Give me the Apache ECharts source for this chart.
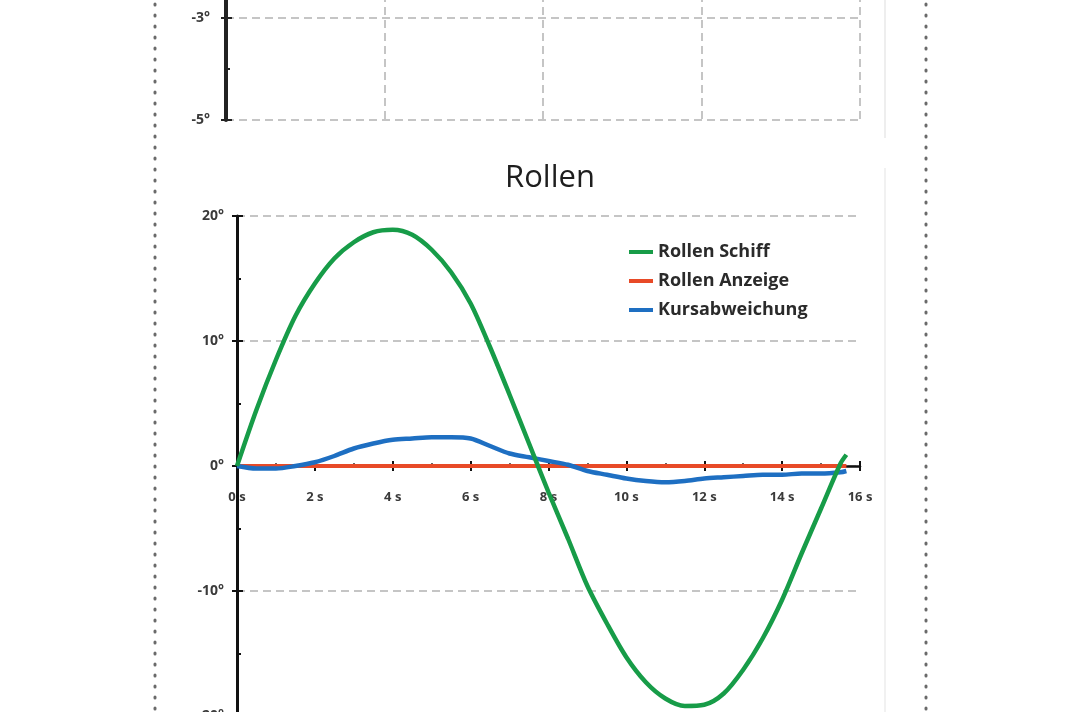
<!DOCTYPE html>
<html>
<head>
<meta charset="utf-8">
<script src="https://cdn.jsdelivr.net/npm/echarts@6/dist/echarts.min.js"></script>
<style>html,body{margin:0;padding:0;background:#fff;}#c{width:1068px;height:712px;}</style>
</head>
<body>
<div id="c"></div>
<script>
const title = 'Rollen';
const seriesNames = ['Rollen Schiff', 'Rollen Anzeige', 'Kursabweichung'];
const times = [0,0.5,1,1.5,2,2.5,3,3.5,4,4.5,5,5.5,6,6.5,7,7.5,8,8.5,9,9.5,10,10.5,11,11.5,12,12.5,13,13.5,14,14.5,15,15.5,15.65];
const rollenSchiff = [0,4.5,8.5,12.0,14.6,16.6,17.9,18.7,18.9,18.5,17.3,15.5,13.0,9.5,5.7,1.8,-2.1,-5.8,-9.6,-12.6,-15.3,-17.3,-18.6,-19.2,-19.1,-18.2,-16.3,-13.8,-10.7,-7.0,-3.4,0.2,0.9];
const rollenAnzeige = [0,0,0,0,0,0,0,0,0,0,0,0,0,0,0,0,0,0,0,0,0,0,0,0,0,0,0,0,0,0,0,0,0];
const kursabweichung = [0,-0.2,-0.2,0.0,0.3,0.8,1.4,1.8,2.1,2.2,2.3,2.3,2.2,1.6,1.0,0.7,0.4,0.1,-0.4,-0.7,-1.0,-1.2,-1.3,-1.2,-1.0,-0.9,-0.8,-0.7,-0.7,-0.6,-0.6,-0.5,-0.4];
const xTicks = {min: 0, max: 16, interval: 2};
const yTicks = {min: -20, max: 20, interval: 10};
const topXTicks = {min: 0, max: 16, interval: 4};
const topYTicks = {min: -5, max: -1, interval: 2};

const colors = {'Rollen Schiff': '#179c48', 'Rollen Anzeige': '#e84a27', 'Kursabweichung': '#1e6fc2'};
const zip = (a) => times.map((t, i) => [t, a[i]]);
const font = '"Open Sans", "Noto Sans", sans-serif';
const gridLine = {show: true, lineStyle: {color: '#b3b3b3', width: 1.5, type: [8, 5]}};
const labelStyle = {fontFamily: font, fontWeight: 'bold', color: '#3a3a3a'};

// bottom grid geometry: y from 216 (20°) to 716 (-20°); the time axis sits on the zero line
const gridTop = 216, gridH = 500;
const zeroOffset = -gridH * (0 - yTicks.min) / (yTicks.max - yTicks.min);

const chart = echarts.init(document.getElementById('c'), null, {renderer: 'canvas'});
chart.setOption({
  animation: false,
  backgroundColor: '#ffffff',
  title: {text: title, left: 545, top: 158, textAlign: 'center',
    textStyle: {fontFamily: font, fontSize: 31, fontWeight: 'normal', color: '#1e1e1e'}},
  legend: {
    data: seriesNames, orient: 'vertical', left: 624, top: 238, itemGap: 11,
    itemWidth: 24, itemHeight: 4, icon: 'rect',
    textStyle: {fontFamily: font, fontSize: 18, fontWeight: 'bold', color: '#2a2a2a', lineHeight: 18}
  },
  graphic: [
    {type: 'line', shape: {x1: 155, y1: 4, x2: 155, y2: 712}, style: {stroke: '#6a6a6a', lineWidth: 3, lineDash: [1, 10], lineCap: 'round'}},
    {type: 'line', shape: {x1: 926, y1: 4, x2: 926, y2: 712}, style: {stroke: '#6a6a6a', lineWidth: 3, lineDash: [1, 10], lineCap: 'round'}},
    {type: 'line', shape: {x1: 885, y1: 0, x2: 885, y2: 138}, style: {stroke: '#e8e8e8', lineWidth: 1.5}},
    {type: 'line', shape: {x1: 885, y1: 168, x2: 885, y2: 712}, style: {stroke: '#ececec', lineWidth: 1.5}}
  ],
  grid: [
    {left: 237, top: gridTop, width: 623, height: gridH, containLabel: false, outerBoundsMode: 'none'},
    {left: 226, top: -84, width: 634, height: 204, containLabel: false, outerBoundsMode: 'none'}
  ],
  xAxis: [
    {type: 'value', gridIndex: 0, position: 'bottom', offset: zeroOffset, min: xTicks.min, max: xTicks.max, interval: xTicks.interval,
     axisLine: {show: true, onZero: false, lineStyle: {color: '#111', width: 2.5}},
     axisTick: {show: true, length: 5, lineStyle: {color: '#111', width: 2}},
     axisLabel: {...labelStyle, fontSize: 13, margin: 25, formatter: v => v + ' s'},
     splitLine: {show: false}},
    {type: 'value', gridIndex: 0, position: 'bottom', offset: zeroOffset, min: xTicks.min, max: xTicks.max, interval: xTicks.interval,
     axisLine: {show: false, onZero: false},
     axisTick: {show: true, inside: true, length: 5, lineStyle: {color: '#111', width: 2}},
     minorTick: {show: true, splitNumber: 2, length: 3, lineStyle: {color: '#333', width: 1.5}},
     axisLabel: {show: false}, splitLine: {show: false}},
    {type: 'value', gridIndex: 1, min: topXTicks.min, max: topXTicks.max, interval: topXTicks.interval,
     axisLine: {show: false}, axisTick: {show: false}, axisLabel: {show: false},
     splitLine: gridLine}
  ],
  yAxis: [
    {type: 'value', gridIndex: 0, position: 'left', min: yTicks.min, max: yTicks.max, interval: yTicks.interval,
     axisLine: {show: true, onZero: false, lineStyle: {color: '#111', width: 3}},
     axisTick: {show: true, length: 5, lineStyle: {color: '#111', width: 2}},
     axisLabel: {...labelStyle, fontSize: 14, margin: 13, formatter: v => v + '°'},
     splitLine: gridLine},
    {type: 'value', gridIndex: 0, position: 'left', min: yTicks.min, max: yTicks.max, interval: yTicks.interval,
     axisLine: {show: false},
     axisTick: {show: true, inside: true, length: 6, lineStyle: {color: '#111', width: 2}},
     minorTick: {show: true, splitNumber: 2, length: 4, lineStyle: {color: '#111', width: 2}},
     axisLabel: {show: false}, splitLine: {show: false}},
    {type: 'value', gridIndex: 1, position: 'left', min: topYTicks.min, max: topYTicks.max, interval: topYTicks.interval,
     axisLine: {show: true, onZero: false, lineStyle: {color: '#222', width: 4}},
     axisTick: {show: true, length: 5, lineStyle: {color: '#222', width: 2}},
     axisLabel: {...labelStyle, fontSize: 14, margin: 16, formatter: v => v + '°'},
     splitLine: gridLine},
    {type: 'value', gridIndex: 1, position: 'left', min: topYTicks.min, max: topYTicks.max, interval: topYTicks.interval,
     axisLine: {show: false},
     axisTick: {show: true, inside: true, length: 6, lineStyle: {color: '#222', width: 2}},
     minorTick: {show: true, splitNumber: 2, length: 4, lineStyle: {color: '#222', width: 2}},
     axisLabel: {show: false}, splitLine: {show: false}}
  ],
  series: [
    {name: 'Rollen Anzeige', type: 'line', xAxisIndex: 0, yAxisIndex: 0, data: zip(rollenAnzeige),
     showSymbol: false, lineStyle: {color: colors['Rollen Anzeige'], width: 4}, itemStyle: {color: colors['Rollen Anzeige']}},
    {name: 'Kursabweichung', type: 'line', xAxisIndex: 0, yAxisIndex: 0, data: zip(kursabweichung), smooth: 0.3,
     showSymbol: false, lineStyle: {color: colors['Kursabweichung'], width: 4.5}, itemStyle: {color: colors['Kursabweichung']}},
    {name: 'Rollen Schiff', type: 'line', xAxisIndex: 0, yAxisIndex: 0, data: zip(rollenSchiff), smooth: 0.3,
     showSymbol: false, lineStyle: {color: colors['Rollen Schiff'], width: 4.5}, itemStyle: {color: colors['Rollen Schiff']}}
  ]
});
</script>
</body>
</html>
